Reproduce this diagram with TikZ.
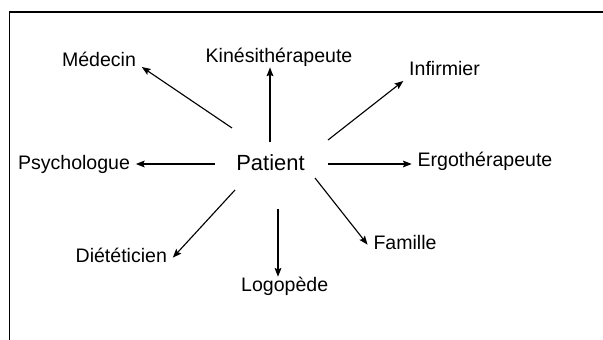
\documentclass[tikz,border=0pt]{standalone}
\usepackage{fontspec}
\setmainfont{Liberation Sans}
\usetikzlibrary{arrows.meta}

\begin{document}
\begin{tikzpicture}[
            x=0.025cm, y=-0.025cm,
            lbl/.style={anchor=base, inner xsep=4pt, inner ysep=2pt, text height=1.5ex, text depth=.25ex, font=\fontsize{13.9}{16}\selectfont},
            centre/.style={lbl, font=\fontsize{15.6}{18}\selectfont},
            arr/.style={-{Stealth[length=2.2mm, width=1.7mm, inset=0.4mm]}, line width=0.8pt},
            frame/.style={draw=black, line width=1pt}
        ]
            \useasboundingbox (0,0) rectangle (603,340);

            % Frame (top and left edge only)
            \draw[frame] (603,12) -- (9.5,12) -- (9.5,340);

            % Centre
            \node[centre] (patient) at (270.5, 170.7) {Patient};

            % Surrounding labels
            \node[lbl] (medecin) at (99, 67) {Médecin};
            \node[lbl] (kine) at (279, 62.5) {Kinésithérapeute};
            \node[lbl] (infirmier) at (444.5, 76) {Infirmier};
            \node[lbl] (psy) at (74, 169.3) {Psychologue};
            \node[lbl] (ergo) at (485, 166.7) {Ergothérapeute};
            \node[lbl] (diet) at (121.3, 262.3) {Diététicien};
            \node[lbl] (famille) at (405, 249.3) {Famille};
            \node[lbl] (logo) at (284.7, 291) {Logopède};

            % Arrow tails round the centre
            \coordinate (t-med) at (232, 128);
            \coordinate (t-kin) at (270, 142);
            \coordinate (t-inf) at (328, 140);
            \coordinate (t-psy) at (215, 164);
            \coordinate (t-erg) at (328, 164);
            \coordinate (t-diet) at (235, 190);
            \coordinate (t-logo) at (278, 209);
            \coordinate (t-fam) at (315, 178);

            % Arrows
            \draw[arr] (t-med) -- (medecin.base east);
            \draw[arr] (t-kin) -- (t-kin |- kine.south);
            \draw[arr] (t-inf) -- (infirmier.south west);
            \draw[arr] (t-psy) -- (t-psy -| psy.east);
            \draw[arr] (t-erg) -- (t-erg -| ergo.west);
            \draw[arr] (t-diet) -- (diet.east);
            \draw[arr] (t-logo) -- (t-logo |- logo.north);
            \draw[arr] (t-fam) -- (famille.west);

        \end{tikzpicture}
\end{document}
